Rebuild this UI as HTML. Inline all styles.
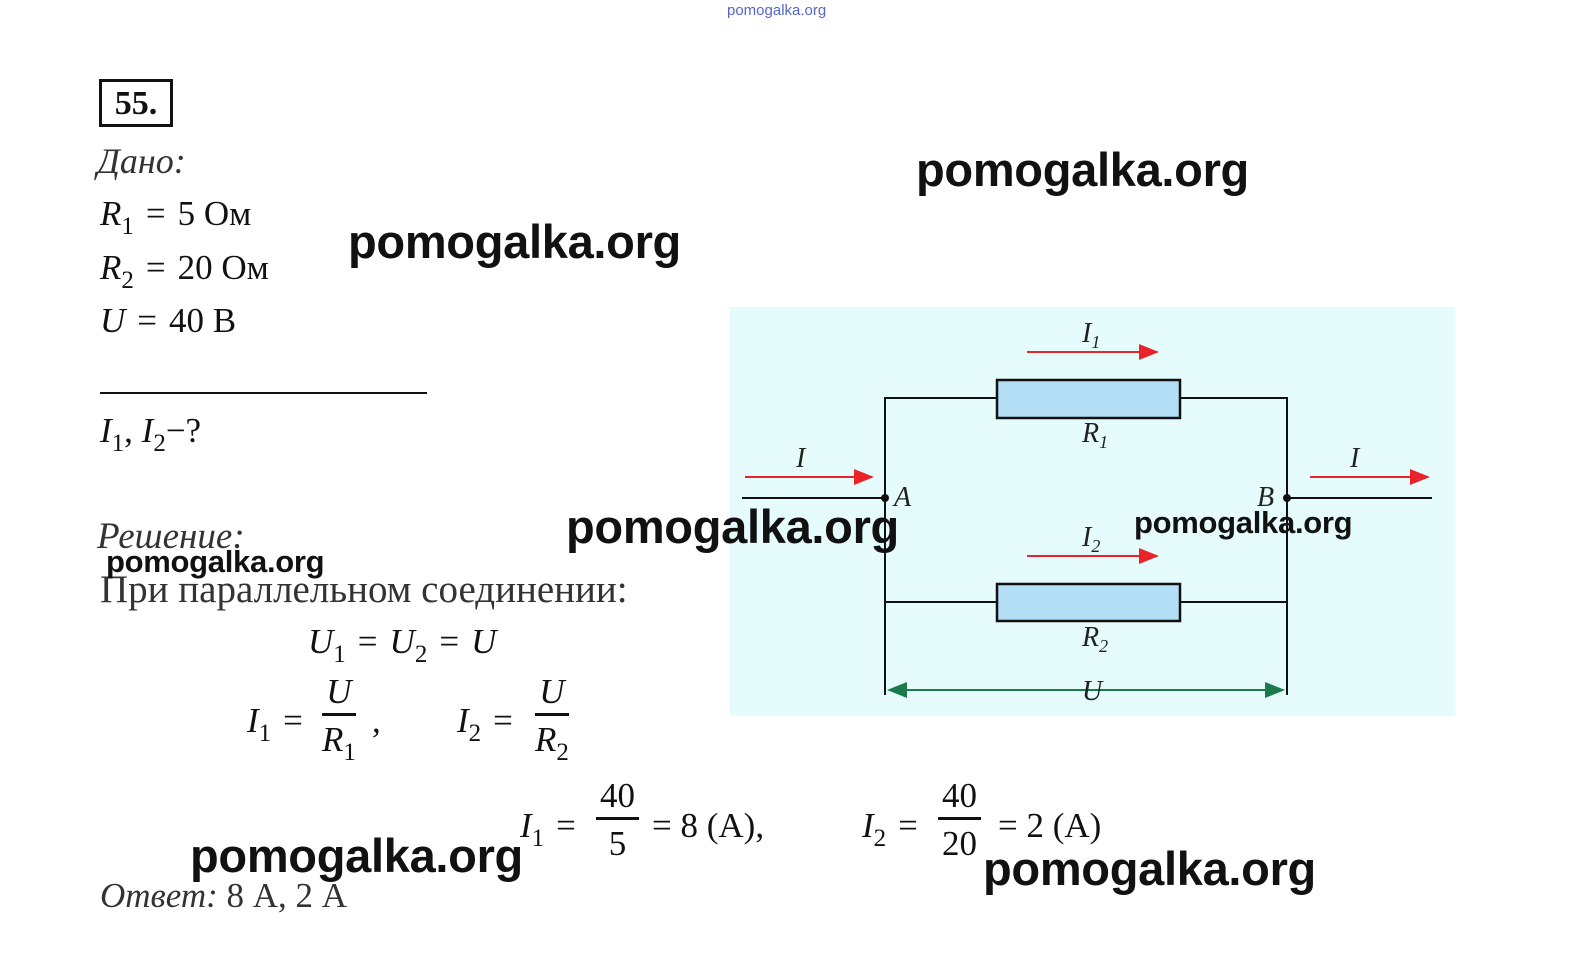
<!DOCTYPE html>
<html><head><meta charset="utf-8"><style>
body{margin:0;width:1582px;height:978px;background:#fff;position:relative;overflow:hidden;font-family:"Liberation Serif",serif;color:#111}
.a{position:absolute;white-space:nowrap;line-height:1}
.m{font-size:35px}
.i{font-style:italic}
.e{padding:0 12px}
sub{font-size:25px;vertical-align:-9px;font-style:normal}
.w{font-family:"Liberation Sans",sans-serif;font-weight:bold;font-size:47px;color:#111;letter-spacing:-0.3px}
.fr{position:absolute;text-align:center;font-size:35px;line-height:1}
.fr .n{border-bottom:3px solid #111;padding:0 4px 4px}
.fr .d{padding-top:6px}
</style></head><body>
<div class="a" style="left:727px;top:3px;font-size:15px;color:#5566cc;font-family:'Liberation Sans',sans-serif">pomogalka.org</div>
<div class="a" style="left:99px;top:79px;width:68px;height:42px;border:3px solid #111;font-weight:bold;font-size:34px;text-align:center;line-height:44px">55.</div>
<div class="a m i" style="left:97px;top:143px;color:#333;font-size:36px">Дано:</div>
<div class="a m" style="left:100px;top:196px"><i>R</i><sub>1</sub><span class="e">=</span>5 Ом</div>
<div class="a m" style="left:100px;top:250px"><i>R</i><sub>2</sub><span class="e">=</span>20 Ом</div>
<div class="a m" style="left:100px;top:303px"><i>U</i><span class="e">=</span>40 В</div>
<div class="a" style="left:100px;top:392px;width:327px;height:2px;background:#111"></div>
<div class="a m" style="left:100px;top:413px"><i>I</i><sub>1</sub>, <i>I</i><sub>2</sub>−?</div>
<div class="a m i" style="left:97px;top:518px;color:#333;font-size:37px">Решение:</div>
<div class="a m" style="left:100px;top:570px;color:#333;font-size:39px">При параллельном соединении:</div>
<div class="a m" style="left:308px;top:624px"><i>U</i><sub>1</sub><span class="e">=</span><i>U</i><sub>2</sub><span class="e">=</span><i>U</i></div>
<div class="a m" style="left:247px;top:703px"><i>I</i><sub>1</sub><span class="e">=</span></div>
<div class="fr" style="left:322px;top:674px"><div class="n"><i>U</i></div><div class="d"><i>R</i><sub>1</sub></div></div>
<div class="a m" style="left:372px;top:703px">,</div>
<div class="a m" style="left:457px;top:703px"><i>I</i><sub>2</sub><span class="e">=</span></div>
<div class="fr" style="left:535px;top:674px"><div class="n"><i>U</i></div><div class="d"><i>R</i><sub>2</sub></div></div>
<div class="a m" style="left:520px;top:808px"><i>I</i><sub>1</sub><span class="e">=</span></div>
<div class="fr" style="left:596px;top:778px"><div class="n">40</div><div class="d">5</div></div>
<div class="a m" style="left:652px;top:808px">= 8 (A),</div>
<div class="a m" style="left:862px;top:808px"><i>I</i><sub>2</sub><span class="e">=</span></div>
<div class="fr" style="left:938px;top:778px"><div class="n">40</div><div class="d">20</div></div>
<div class="a m" style="left:998px;top:808px">= 2 (A)</div>
<div class="a m" style="left:100px;top:878px;color:#333"><i>Ответ:</i> 8 А, 2 А</div>

<svg class="a" style="left:0;top:0" width="1582" height="978">
<defs>
<marker id="r" markerWidth="10" markerHeight="8" refX="9" refY="4" orient="auto"><path d="M0,0L10,4L0,8z" fill="#e8242a"/></marker>
<marker id="g" markerWidth="10" markerHeight="8" refX="9" refY="4" orient="auto-start-reverse"><path d="M0,0L10,4L0,8z" fill="#1a7a4a"/></marker>
</defs>
<rect x="730" y="307" width="725" height="409" fill="#e6fbfc"/>
<g stroke="#111" stroke-width="2" fill="none">
<path d="M885 695V398H997M1180 398H1287V695M885 602H997M1180 602H1287M742 498H885M1287 498H1432"/>
</g>
<rect x="997" y="380" width="183" height="38" fill="#b3def5" stroke="#111" stroke-width="2.5"/>
<rect x="997" y="584" width="183" height="37" fill="#b3def5" stroke="#111" stroke-width="2.5"/>
<circle cx="885" cy="498" r="4" fill="#111"/><circle cx="1287" cy="498" r="4" fill="#111"/>
<g stroke="#e8242a" stroke-width="2" marker-end="url(#r)">
<line x1="1027" y1="352" x2="1157" y2="352"/><line x1="1027" y1="556" x2="1157" y2="556"/>
<line x1="745" y1="477" x2="872" y2="477"/><line x1="1310" y1="477" x2="1428" y2="477"/>
</g>
<line x1="889" y1="690" x2="1283" y2="690" stroke="#1a7a4a" stroke-width="2" marker-start="url(#g)" marker-end="url(#g)"/>
<g font-family="Liberation Serif" font-style="italic" font-size="28" fill="#222">
<text x="1082" y="342">I<tspan font-size="18" dy="6">1</tspan></text>
<text x="1082" y="546">I<tspan font-size="18" dy="6">2</tspan></text>
<text x="1082" y="442">R<tspan font-size="18" dy="6">1</tspan></text>
<text x="1082" y="646">R<tspan font-size="18" dy="6">2</tspan></text>
<text x="796" y="467">I</text><text x="1350" y="467">I</text>
<text x="894" y="506">A</text><text x="1257" y="506">B</text>
<text x="1082" y="700">U</text>
</g>
</svg>

<div class="a w" style="left:916px;top:146px">pomogalka.org</div>
<div class="a w" style="left:348px;top:218px">pomogalka.org</div>
<div class="a w" style="left:566px;top:503px">pomogalka.org</div>
<div class="a w" style="left:1134px;top:507px;font-size:31px">pomogalka.org</div>
<div class="a w" style="left:106px;top:546px;font-size:31px">pomogalka.org</div>
<div class="a w" style="left:190px;top:832px">pomogalka.org</div>
<div class="a w" style="left:983px;top:845px">pomogalka.org</div>
</body></html>
